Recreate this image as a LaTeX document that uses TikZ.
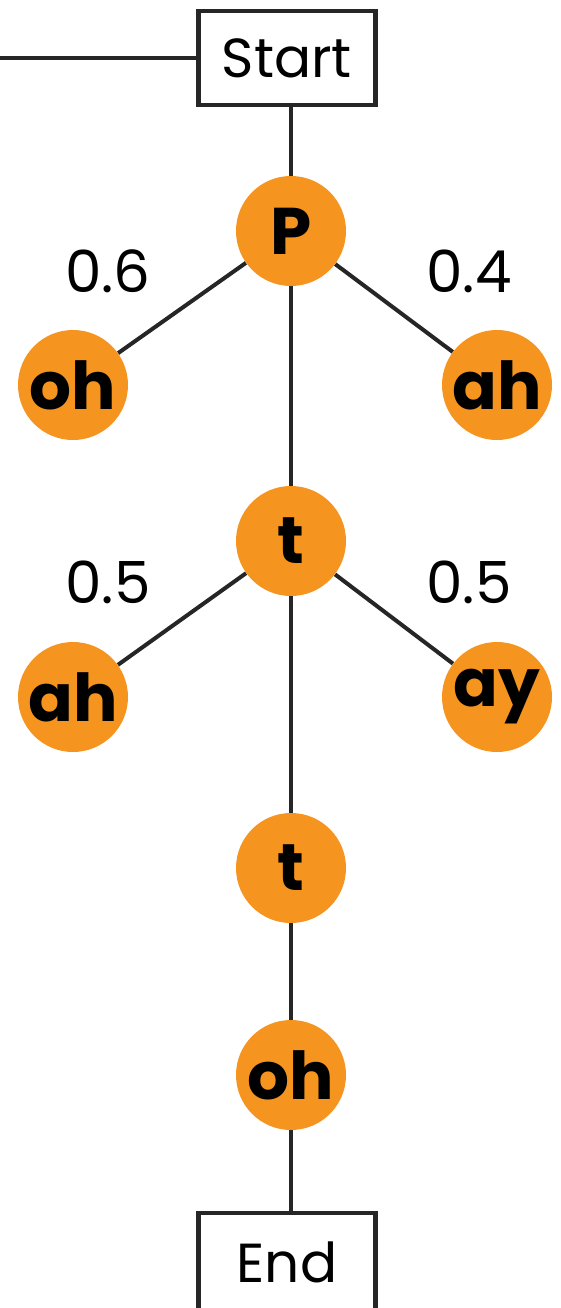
\documentclass[tikz,border=0pt]{standalone}
\usepackage{fontspec}
\setmainfont{Poppins}
\usetikzlibrary{backgrounds}
\definecolor{phone}{RGB}{246,148,32}
\tikzset{
  every picture/.style={x=1pt,y=-1pt},
  wire/.style={line width=4pt,draw=black!85},
  term/.style={draw=black!85,line width=4.5pt,fill=white,minimum width=177pt,minimum height=94pt,inner sep=0pt,font=\fontsize{55}{55}\selectfont},
  phone/.style={circle,fill=phone,minimum size=110pt,inner sep=0pt,font=\fontsize{66}{66}\selectfont\bfseries},
  prob/.style={font=\fontsize{58}{58}\selectfont,inner sep=0pt}
}
\begin{document}
\begin{tikzpicture}
\useasboundingbox (0,0) rectangle (561,1308);
\node[term] (start) at (287,58) {Start};
\coordinate (feed) at (0,58);
\node[phone] (P) at (291,231) {P};
\node[phone] (oh1) at (73,385) {oh};
\node[phone] (ah1) at (497,385) {ah};
\node[phone] (t1) at (291,541) {t};
\node[phone] (ah2) at (73,697) {ah};
\node[phone] (ay) at (497,697) {ay};
\node[phone] (t2) at (291,868) {t};
\node[phone] (oh2) at (291,1075) {oh};
\node[term,minimum height=110pt] (end) at (287,1268) {};
\node[font=\fontsize{55}{55}\selectfont] (endlbl) at (287,1262) {End};
\node[prob] (p06) at (108,271) {0.6};
\node[prob] (p04) at (469,271) {0.4};
\node[prob] (p05a) at (108,582) {0.5};
\node[prob] (p05b) at (469,582) {0.5};
\begin{pgfonlayer}{background}
\draw[wire] (feed) -- (start.west);
\draw[wire] (start.south -| P.center) -- (P.center) -- (t1.center) -- (t2.center) -- (oh2.center) -- (end.north -| oh2.center);
\draw[wire] (P) -- (oh1);
\draw[wire] (P) -- (ah1);
\draw[wire] (t1) -- (ah2);
\draw[wire] (t1) -- (ay);
\end{pgfonlayer}
\end{tikzpicture}
\end{document}
